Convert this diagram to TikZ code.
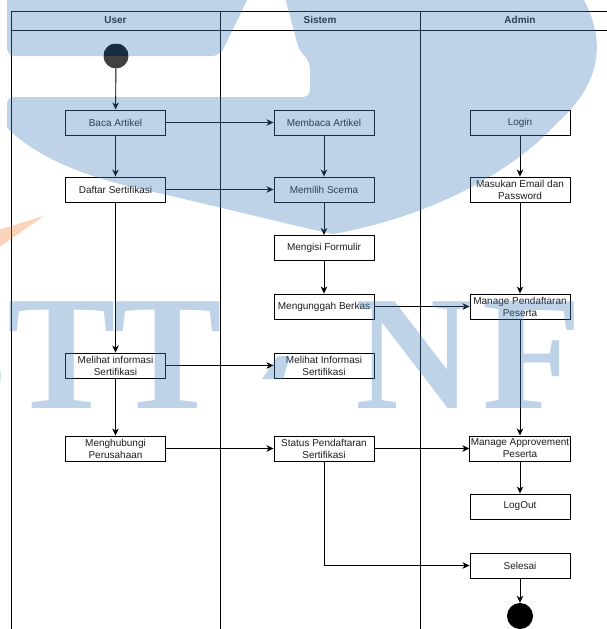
\documentclass[tikz,border=0pt]{standalone}
\usepackage{fontspec}
\setmainfont{Liberation Sans}
\newfontfamily\wmfont{Liberation Serif}
\usetikzlibrary{arrows.meta}
\definecolor{wmblue}{RGB}{70,130,190}
\definecolor{wmorange}{RGB}{240,130,60}
\definecolor{txt}{RGB}{30,30,30}
\definecolor{startgrey}{RGB}{64,64,64}
\begin{document}
\begin{tikzpicture}[x=1pt,y=-1pt,
  lane/.style={line width=0.9pt, draw=black},
  box/.style={draw=black, line width=0.9pt, fill=white, minimum width=100pt,
    minimum height=25pt, inner sep=1pt, align=center,
    font=\fontsize{10}{12}\selectfont, text=txt},
  hdr/.style={font=\bfseries\fontsize{10}{12}\selectfont, text=txt},
  startnode/.style={circle, minimum size=25pt, inner sep=0pt, fill=startgrey,
    path picture={\fill[black] (path picture bounding box.north west) rectangle (path picture bounding box.east);}},
  endnode/.style={circle, minimum size=26pt, inner sep=0pt, fill=black},
  arr/.style={-{Stealth[length=7pt,width=6.5pt,inset=2pt]}, line width=0.9pt},
  wmletter/.style={anchor=base, inner sep=0pt, text=wmblue, opacity=0.35,
    font=\wmfont\bfseries\fontsize{163}{163}\selectfont},
  wm/.style={fill=wmblue, opacity=0.35}
]
\clip (0,0) rectangle (607,629);
\fill[white] (0,0) rectangle (607,629);
% swimlane frame
\draw[lane] (11,640) -- (11,11) -- (615,11);
\draw[lane] (11,30) -- (615,30);
\draw[lane] (220,11) -- (220,640);
\draw[lane] (420,11) -- (420,640);
\node[hdr] (hU) at (115.5,20) {User};
\node[hdr] (hS) at (320,20) {Sistem};
\node[hdr] (hA) at (520,20) {Admin};
% nodes
\node[startnode] (start) at (116,56) {};
\node[box] (baca) at (115.5,122.5) {Baca Artikel};
\node[box] (daftar) at (115.5,189.5) {Daftar Sertifikasi};
\node[box] (lihatU) at (115.5,365.5) {Melihat informasi\\Sertifikasi};
\node[box] (hubung) at (115.5,448.5) {Menghubungi\\Perusahaan};
\node[box] (membaca) at (324,122.5) {Membaca Artikel};
\node[box] (memilih) at (324,189.5) {Memilih Scema};
\node[box] (mengisi) at (324,248) {Mengisi Formulir};
\node[box] (unggah) at (324,306.5) {Mengunggah Berkas};
\node[box] (lihatS) at (324,365.5) {Melihat Informasi\\Sertifikasi};
\node[box] (status) at (324,448.5) {Status Pendaftaran\\Sertifikasi};
\node[box] (login) at (520,122.5) {Login};
\node[box] (email) at (520,189.5) {Masukan Email dan\\Password};
\node[box] (mpend) at (520,306.5) {Manage Pendaftaran\\Peserta};
\node[box] (mappr) at (520,448.5) {Manage Approvement\\Peserta};
\node[box] (logout) at (520,506.5) {LogOut};
\node[box] (selesai) at (520,565.5) {Selesai};
\node[endnode] (end) at (520,616) {};
% connectors
\draw[arr] (start) -- (baca);
\draw[arr] (baca) -- (membaca);
\draw[arr] (baca) -- (daftar);
\draw[arr] (daftar) -- (memilih);
\draw[arr] (daftar) -- (lihatU);
\draw[arr] (lihatU) -- (lihatS);
\draw[arr] (lihatU) -- (hubung);
\draw[arr] (hubung) -- (status);
\draw[arr] (membaca) -- (memilih);
\draw[arr] (memilih) -- (mengisi);
\draw[arr] (mengisi) -- (unggah);
\draw[arr] (unggah) -- (mpend);
\draw[arr] (status) -- (mappr);
\draw[arr] (status.south) |- (selesai.west);
\draw[arr] (login) -- (email);
\draw[arr] (email) -- (mpend);
\draw[arr] (mpend) -- (mappr);
\draw[arr] (mappr) -- (logout);
\draw[arr] (selesai) -- (end);
% watermark
\fill[wm, rounded corners=8pt] (7,-10) -- (252,-10) -- (220,56) -- (7,56) -- cycle;
\fill[wm] (283,-10) -- (578,-10) .. controls (610,40) and (600,85) .. (557,123)
  .. controls (520,165) and (440,215) .. (333,234)
  .. controls (290,225) and (220,207) .. (145,190)
  .. controls (90,178) and (40,160) .. (7,128)
  [rounded corners=7pt] -- (7,97) -- (310,97) -- (310,62) -- (299,50) [sharp corners] -- (283,-10) -- cycle;
\fill[fill=wmorange, opacity=0.35] (-2,230) -- (44,216) -- (-2,248) -- cycle;
\fill[wm] (262,379) -- (283,379) -- (290,356) -- (278,356) -- cycle;
\node[wmletter] (wS) at (-37,408) {S};
\node[wmletter] (wT1) at (61.5,408) {T};
\node[wmletter] (wT2) at (168,408) {T};
\node[wmletter] (wN) at (414,408) {N};
\node[wmletter] (wF) at (532,408) {F};
\end{tikzpicture}
\end{document}
